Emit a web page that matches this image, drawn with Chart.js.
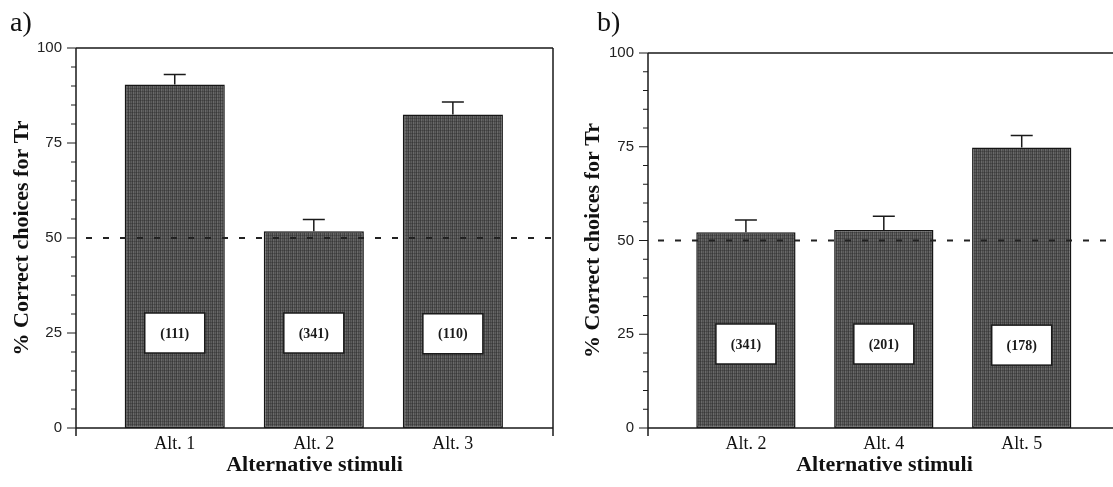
<!DOCTYPE html>
<html>
<head>
<meta charset="utf-8">
<script src="https://cdn.jsdelivr.net/npm/chart.js@4.4.1/dist/chart.umd.min.js"></script>
<style>
  html, body { margin: 0; padding: 0; background: #fff; overflow: hidden; }
  #wrap { position: relative; width: 1113px; height: 487px; overflow: hidden; background: #fff; }
  canvas { position: absolute; top: 0; }
  #ca { left: 0; }
  #cb { left: 560px; }
</style>
</head>
<body>
<div id="wrap">
  <canvas id="ca" width="560" height="487"></canvas>
  <canvas id="cb" width="570" height="487"></canvas>
</div>
<script>
// ---------- data ----------
const labelsA = ['Alt. 1', 'Alt. 2', 'Alt. 3'];
const valuesA = [90.4, 51.8, 82.5];
const errorsA = [2.6, 3.1, 3.3];
const countsA = ['(111)', '(341)', '(110)'];
const boxLevelA = [25.0, 25.0, 24.8];

const labelsB = ['Alt. 2', 'Alt. 4', 'Alt. 5'];
const valuesB = [52.2, 52.8, 74.8];
const errorsB = [3.3, 3.7, 3.2];
const countsB = ['(341)', '(201)', '(178)'];
const boxLevelB = [22.4, 22.4, 22.1];

const chanceLevel = 50;
const yTickValues = [0, 25, 50, 75, 100];
const yMinorStep = 5;
const yTitle = '% Correct choices for Tr';
const xTitle = 'Alternative stimuli';

// ---------- style ----------
function makePattern() {
  const c = document.createElement('canvas');
  c.width = 4; c.height = 3;
  const g = c.getContext('2d');
  const cols = ['#424242', '#6a6a6a', '#4e4e4e', '#5e5e5e'];
  for (let i = 0; i < 4; i++) { g.fillStyle = cols[i]; g.fillRect(i, 0, 1, 3); }
  g.fillStyle = 'rgba(40,40,40,0.35)'; g.fillRect(0, 1, 4, 1);
  return g.createPattern(c, 'repeat');
}
const barFill = makePattern();

const decor = {
  id: 'decor',
  afterDatasetsDraw(chart, args, o) {
    const { ctx, chartArea: a, scales: { x, y } } = chart;
    ctx.save();
    // error bars
    ctx.strokeStyle = '#1a1a1a';
    ctx.lineWidth = 1.5;
    o.values.forEach((v, i) => {
      const px = x.getPixelForValue(i);
      const y0 = y.getPixelForValue(v);
      const y1 = y.getPixelForValue(v + o.errors[i]);
      ctx.beginPath();
      ctx.moveTo(px, y0); ctx.lineTo(px, y1);
      ctx.moveTo(px - 11, y1); ctx.lineTo(px + 11, y1);
      ctx.stroke();
    });
    // chance line
    ctx.setLineDash([6, 11]);
    ctx.lineWidth = 2;
    ctx.strokeStyle = '#222';
    const yc = y.getPixelForValue(o.chance);
    ctx.beginPath(); ctx.moveTo(a.left + 10, yc); ctx.lineTo(a.right, yc); ctx.stroke();
    ctx.setLineDash([]);
    // count boxes
    o.counts.forEach((t, i) => {
      const px = x.getPixelForValue(i);
      const py = y.getPixelForValue(o.boxLevels[i]);
      ctx.fillStyle = '#ffffff';
      ctx.fillRect(px - 30, py - 20, 60, 40);
      ctx.strokeStyle = '#1a1a1a';
      ctx.lineWidth = 1.5;
      ctx.strokeRect(px - 30, py - 20, 60, 40);
      ctx.fillStyle = '#1a1a1a';
      ctx.font = 'bold 14px "Liberation Serif", "Times New Roman", serif';
      ctx.textAlign = 'center';
      ctx.textBaseline = 'middle';
      ctx.fillText(t, px, py + 1);
    });
    // frame & axes
    ctx.strokeStyle = '#1a1a1a';
    ctx.lineWidth = 1.5;
    ctx.beginPath();
    ctx.moveTo(a.left, a.top); ctx.lineTo(a.left, a.bottom + 8);
    ctx.moveTo(a.left, a.bottom); ctx.lineTo(a.right, a.bottom);
    ctx.moveTo(a.left, a.top); ctx.lineTo(a.right, a.top);
    ctx.moveTo(a.right, a.top); ctx.lineTo(a.right, a.bottom + 8);
    ctx.stroke();
    // y ticks
    ctx.lineWidth = 1;
    ctx.beginPath();
    for (let v = y.min; v <= y.max; v += yMinorStep) {
      const py = y.getPixelForValue(v);
      const len = yTickValues.includes(v) ? 9 : 5;
      ctx.moveTo(a.left - len, py); ctx.lineTo(a.left, py);
    }
    ctx.stroke();
    // panel letter
    ctx.fillStyle = '#111';
    ctx.font = '28px "Liberation Serif", "Times New Roman", serif';
    ctx.textAlign = 'left';
    ctx.textBaseline = 'alphabetic';
    ctx.fillText(o.letter, o.letterX, 31);
    ctx.restore();
  }
};

function build(id, labels, values, errors, counts, boxLevels, opts) {
  const points = values.map((v, i) => ({ x: i, y: v }));
  return new Chart(document.getElementById(id), {
    type: 'bar',
    data: {
      datasets: [{
        data: points,
        backgroundColor: barFill,
        borderColor: '#151515',
        borderWidth: 1.5,
        borderSkipped: false,
        categoryPercentage: 1,
        barPercentage: 0.72
      }]
    },
    options: {
      responsive: false,
      animation: false,
      events: [],
      layout: { padding: { top: opts.top, right: opts.right, left: 0, bottom: 0 } },
      plugins: {
        legend: { display: false },
        tooltip: { enabled: false },
        decor: { values, errors, counts, boxLevels, chance: chanceLevel, letter: opts.letter, letterX: opts.letterX }
      },
      scales: {
        x: {
          type: 'linear',
          offset: false,
          min: -0.71,
          max: 2.72,
          afterBuildTicks: s => { s.ticks = labels.map((_, i) => ({ value: i })); },
          afterFit: s => { s.height = 487 - 428; },
          grid: { display: false, drawTicks: false, offset: false },
          border: { display: false },
          ticks: {
            autoSkip: false,
            maxRotation: 0,
            padding: 5,
            color: '#111',
            font: { family: '"Liberation Serif", "Times New Roman", serif', size: 18 },
            callback: v => labels[v]
          },
          title: {
            display: true,
            text: xTitle,
            color: '#111',
            font: { family: '"Liberation Serif", "Times New Roman", serif', size: 22, weight: 'bold', lineHeight: 1.1 },
            padding: { top: 0, bottom: 10 }
          }
        },
        y: {
          min: 0,
          max: 100,
          afterBuildTicks: s => { s.ticks = yTickValues.map(v => ({ value: v })); },
          afterFit: s => { s.width = opts.yWidth; },
          grid: { display: false, drawTicks: false },
          border: { display: false },
          ticks: {
            padding: 14,
            color: '#222',
            font: { family: '"Liberation Sans", Arial, sans-serif', size: 15 }
          },
          title: {
            display: true,
            text: yTitle,
            color: '#111',
            font: { family: '"Liberation Serif", "Times New Roman", serif', size: 22, weight: 'bold', lineHeight: 1.1 },
            padding: { top: opts.titlePad, bottom: 0 }
          }
        }
      }
    },
    plugins: [decor]
  });
}

build('ca', labelsA, valuesA, errorsA, countsA, boxLevelA,
  { top: 48, right: 7, yWidth: 76, titlePad: 10, letter: 'a)', letterX: 10 });
build('cb', labelsB, valuesB, errorsB, countsB, boxLevelB,
  { top: 53, right: 9, yWidth: 88, titlePad: 21, letter: 'b)', letterX: 37 });
</script>
</body>
</html>
